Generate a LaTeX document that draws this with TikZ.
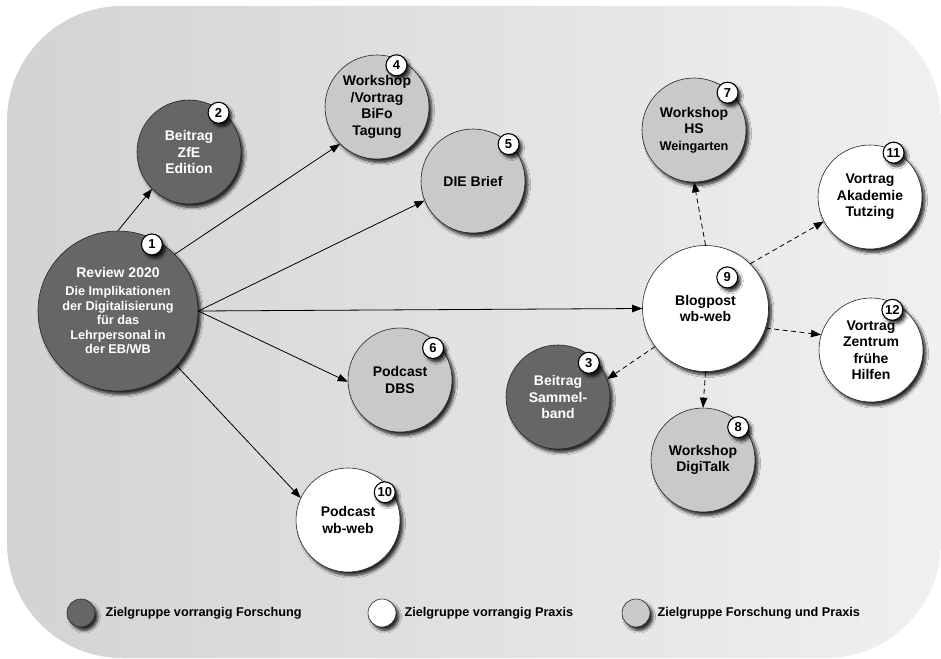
\documentclass[tikz,border=0pt]{standalone}
\usepackage{fontspec}
\setmainfont{Liberation Sans}
\usetikzlibrary{shadows.blur,arrows.meta,positioning,calc}

\definecolor{forschung}{HTML}{666666}
\definecolor{beides}{HTML}{C9C9C9}
\definecolor{bgleft}{HTML}{D3D3D3}
\definecolor{bgright}{HTML}{F0F0F0}

\tikzset{
	schatten/.style={blur shadow={shadow xshift=3pt, shadow yshift=-3.5pt, shadow blur radius=2.5pt, shadow blur steps=8, shadow opacity=80}},
	item/.style={circle, draw=black!85, line width=0.6pt, minimum size=104pt, inner sep=0pt, align=center, font=\fontsize{14}{16.5}\selectfont\bfseries, schatten},
	forsch/.style={item, fill=forschung, text=white},
	prax/.style={item, fill=white},
	beide/.style={item, fill=beides},
	badge/.style={circle, draw=black, line width=1.1pt, fill=white, minimum size=21pt, inner sep=0pt, font=\fontsize{13}{13}\selectfont\bfseries, schatten},
	legdot/.style={minimum size=28pt},
	legtext/.style={inner sep=0pt, font=\fontsize{12.7}{14}\selectfont\bfseries},
	link/.style={-{Triangle[length=10pt,width=7.5pt]}, line width=0.8pt},
	soft/.style={link, dash pattern=on 5pt off 3.5pt}
}

\begin{document}
\begin{tikzpicture}[x=1pt, y=-1pt]
		\useasboundingbox (0,0) rectangle (941,658);
		\shade[left color=bgleft, right color=bgright, rounded corners=115pt] (7,6) rectangle (941,658);

		\node[forsch, minimum size=160pt, font=\fontsize{12.7}{14.5}\selectfont\bfseries] (n1) at (118,311) {{\fontsize{14}{14}\selectfont Review 2020}\\[3.5pt]Die Implikationen\\der Digitalisierung\\für das\\Lehrpersonal in\\der EB/WB};
		\node[forsch] (n2) at (189,152) {Beitrag\\ZfE\\Edition};
		\node[forsch] (n3) at (558,397) {Beitrag\\Sammel-\\band};
		\node[beide] (n4) at (377,107) {Workshop\\/Vortrag\\BiFo\\Tagung};
		\node[beide] (n5) at (473,181) {DIE Brief};
		\node[beide] (n6) at (400,380) {Podcast\\DBS};
		\node[beide] (n7) at (694,130) {Workshop\\HS\\{\fontsize{12.7}{14}\selectfont Weingarten}};
		\node[beide] (n8) at (703,460) {Workshop\\DigiTalk};
		\node[prax, minimum size=126pt] (n9) at (705.5,308.5) {Blogpost\\wb-web};
		\node[prax] (n10) at (348,520) {Podcast\\wb-web};
		\node[prax] (n11) at (870,197) {Vortrag\\Akademie\\Tutzing};
		\node[prax] (n12) at (871,350) {Vortrag\\Zentrum\\frühe\\Hilfen};

		\node[badge] (b1) at ($(n1.center)!0.93!(n1.63)$) {1};
		\node[badge] (b2) at ($(n2.center)!0.94!(n2.53)$) {2};
		\node[badge] (b3) at ($(n3.center)!0.88!(n3.48)$) {3};
		\node[badge] (b4) at ($(n4.center)!0.88!(n4.65)$) {4};
		\node[badge] (b5) at ($(n5.center)!0.98!(n5.46)$) {5};
		\node[badge] (b6) at ($(n6.center)!0.88!(n6.44)$) {6};
		\node[badge] (b7) at ($(n7.center)!0.96!(n7.48)$) {7};
		\node[badge] (b8) at ($(n8.center)!0.92!(n8.43)$) {8};
		\node[badge] (b9) at ($(n9.center)!0.6!(n9.55)$) {9};
		\node[badge] (b10) at ($(n10.center)!0.88!(n10.37)$) {10};
		\node[badge] (b11) at ($(n11.center)!0.96!(n11.62)$) {11};
		\node[badge] (b12) at ($(n12.center)!0.87!(n12.62)$) {12};

		\draw[link] (n1.north) -- (n2.225);
		\draw[link] (n1.45) -- (n4.225);
		\draw[link] (n1.east) -- (n5.202);
		\draw[link] (n1.east) -- (n9.west);
		\draw[link] (n1.east) -- (n6.182);
		\draw[link] (n1.317) -- (n10.155);

		\draw[soft] (n9.north) -- (n7.south);
		\draw[soft] (n9.45) -- (n11.208);
		\draw[soft] (n9.342) -- (n12.163);
		\draw[soft] (n9.217) -- (n3.20);
		\draw[soft] (n9.south) -- (n8.north);

		\node[forsch, legdot] (l1) at (81,613) {};
		\node[legtext, right=10pt of l1] (t1) {Zielgruppe vorrangig Forschung};
		\node[prax, legdot] (l2) at (382,613) {};
		\node[legtext, right=8pt of l2] (t2) {Zielgruppe vorrangig Praxis};
		\node[beide, legdot] (l3) at (636,613) {};
		\node[legtext, right=7pt of l3] (t3) {Zielgruppe Forschung und Praxis};
\end{tikzpicture}
\end{document}
